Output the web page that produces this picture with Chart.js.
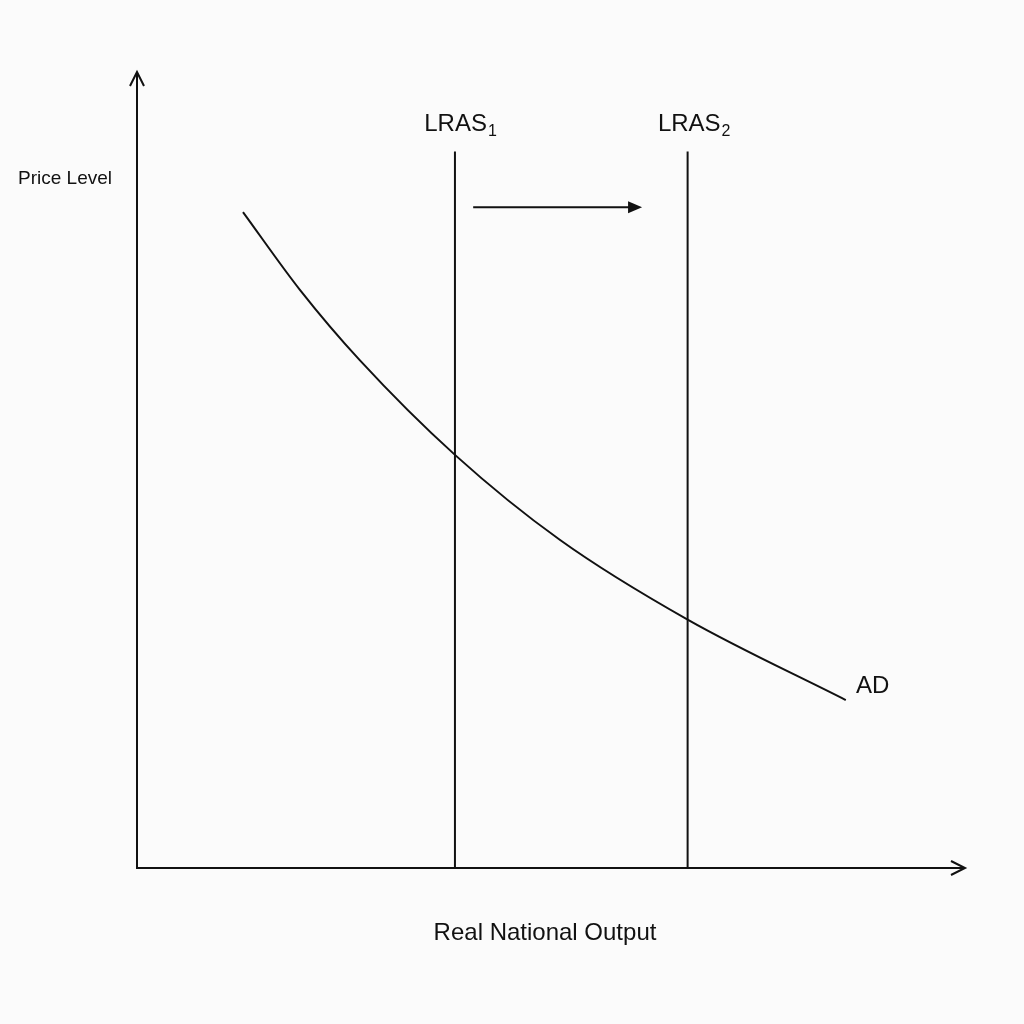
<!DOCTYPE html>
<html><head><meta charset="utf-8">
<script src="https://cdn.jsdelivr.net/npm/chart.js@4"></script>
<style>html,body{margin:0;background:#fbfbfb}#w{width:1024px;height:1024px}</style>
</head><body><div id="w"><canvas id="c"></canvas></div>
<script>
const adX=[12.8,19.7,26.9,38.4,51.1,66.5,85.6];
const adY=[82.4,72.6,63.8,51.9,41.2,31.2,21.1];
const lras1X=38.4, lras2X=66.5, lrasTop=90;
const shiftX=[40.6,61.0], shiftY=83.0;
const pts=(xs,ys)=>xs.map((x,i)=>({x,y:ys[i]}));
const deco={id:'deco',afterDatasetsDraw(ch){
 const c=ch.ctx,a=ch.chartArea,xs=ch.scales.x,ys=ch.scales.y;
 c.save();c.strokeStyle='#111';c.fillStyle='#111';c.lineWidth=2;
 // axes
 c.beginPath();c.moveTo(a.left,a.top);c.lineTo(a.left,a.bottom);c.lineTo(a.right,a.bottom);c.stroke();
 c.beginPath();c.moveTo(a.left-7,a.top+14);c.lineTo(a.left,a.top);c.lineTo(a.left+7,a.top+14);c.stroke();
 c.beginPath();c.moveTo(a.right-14,a.bottom-7);c.lineTo(a.right,a.bottom);c.lineTo(a.right-14,a.bottom+7);c.stroke();
 // shift arrowhead
 const hx=xs.getPixelForValue(shiftX[1]),hy=ys.getPixelForValue(shiftY);
 c.beginPath();c.moveTo(hx,hy);c.lineTo(hx-14,hy-6);c.lineTo(hx-14,hy+6);c.closePath();c.fill();
 c.font='19px "Liberation Sans", Arial';c.textAlign='left';c.textBaseline='middle';
 c.fillText('Price Level',18,179);
 c.font='24px "Liberation Sans", Arial';c.textAlign='center';
 c.fillText('Real National Output',545,933);
 c.textAlign='left';c.fillText('AD',856,686);
 const lab=(x,s)=>{c.font='24px "Liberation Sans", Arial';c.textAlign='right';c.fillText('LRAS',x,124);
  c.font='16px "Liberation Sans", Arial';c.textAlign='left';c.fillText(s,x+1,132);};
 lab(xs.getPixelForValue(lras1X)+32,'1');lab(xs.getPixelForValue(lras2X)+33,'2');
 c.restore();}};
new Chart(document.getElementById('c'),{type:'scatter',
 data:{datasets:[
  {data:pts(adX,adY),showLine:true,cubicInterpolationMode:'monotone',borderColor:'#111',borderWidth:2,pointRadius:0},
  {data:[{x:lras1X,y:0},{x:lras1X,y:lrasTop}],showLine:true,borderColor:'#111',borderWidth:2,pointRadius:0},
  {data:[{x:lras2X,y:0},{x:lras2X,y:lrasTop}],showLine:true,borderColor:'#111',borderWidth:2,pointRadius:0},
  {data:[{x:shiftX[0],y:shiftY},{x:shiftX[1]-1.5,y:shiftY}],showLine:true,borderColor:'#111',borderWidth:2,pointRadius:0}]},
 options:{responsive:true,maintainAspectRatio:false,animation:false,
  layout:{padding:{left:137,right:59,top:72,bottom:156}},
  plugins:{legend:{display:false},tooltip:{enabled:false}},
  scales:{x:{type:'linear',min:0,max:100,display:false},y:{min:0,max:100,display:false}}},
 plugins:[deco]});
</script></body></html>
